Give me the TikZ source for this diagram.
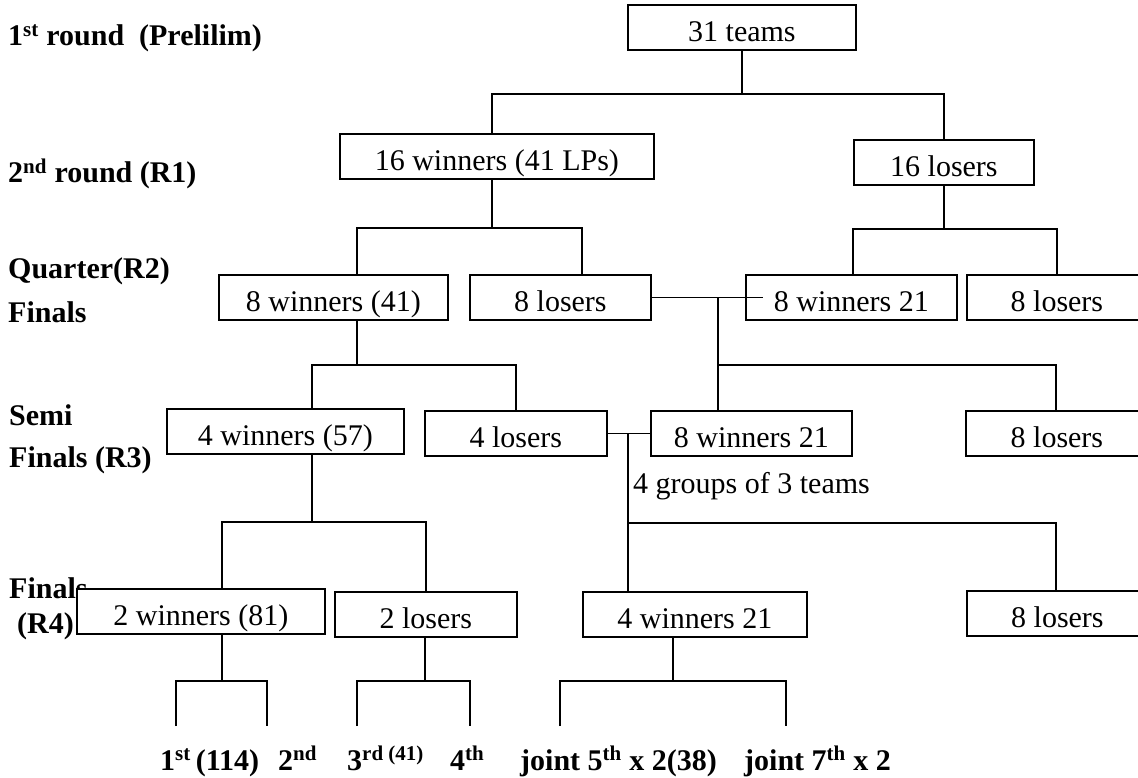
\documentclass[tikz,border=0pt]{standalone}
\usepackage{fontspec}
\setmainfont{Liberation Serif}

\tikzset{
  teambox/.style={draw, fill=white, line width=1.8pt, inner sep=0pt, anchor=north west,
    text height=37pt, text depth=8pt, font=\fontsize{30}{36}\selectfont},
  rnd/.style={anchor=base west, inner sep=0pt, font=\fontsize{30}{36}\selectfont\bfseries},
  link/.style={line width=1.8pt},
}

\begin{document}
\begin{tikzpicture}[x=1pt,y=-1pt]
	\useasboundingbox (0,0) rectangle (1138,778);
	\clip (0,0) rectangle (1138,778);

	% round names
	\node[rnd] (r1) at (8,46) {1\textsuperscript{st} round\ \ (Prelilim)};
	\node[rnd] (r2) at (8,183) {2\textsuperscript{nd} round (R1)};
	\node[rnd] (r3a) at (8,279) {Quarter(R2)};
	\node[rnd] (r3b) at (8,322) {Finals};
	\node[rnd] (r4a) at (9,425) {Semi};
	\node[rnd] (r4b) at (9,467) {Finals (R3)};
	\node[rnd] (r5a) at (9,598) {Finals};
	\node[rnd] (r5b) at (17,633) {(R4)};

	% boxes
	\node[teambox, minimum width=228pt] (teams) at (627,4) {31 teams\hspace{46pt}};
	\node[teambox, minimum width=314pt] (win16) at (339,133) {16 winners (41 LPs)};
	\node[teambox, minimum width=180pt] (los16) at (853,139) {16 losers};

	\node[teambox, minimum width=229pt] (win8) at (218,274) {8 winners (41)};
	\node[teambox, minimum width=181pt] (los8) at (469,274) {8 losers};
	\node[teambox, minimum width=211pt] (rwin8) at (745,274) {8 winners 21};
	\node[teambox, minimum width=180pt] (rlos8) at (966,274) {8 losers};

	\node[teambox, minimum width=237pt] (win4) at (166,408) {4 winners (57)};
	\node[teambox, minimum width=182pt] (los4) at (424,410) {4 losers};
	\node[teambox, minimum width=201pt] (rwin8b) at (650,410) {8 winners 21};
	\node[teambox, minimum width=182pt] (rlos8b) at (965,410) {8 losers};

	\node[teambox, minimum width=248pt] (win2) at (76,588) {2 winners (81)};
	\node[teambox, minimum width=182pt] (los2) at (334,591) {2 losers};
	\node[teambox, minimum width=224pt] (win4b) at (582,591) {4 winners 21};
	\node[teambox, minimum width=181pt] (los8c) at (966,590) {8 losers};

	\node[anchor=base west, inner sep=0pt, font=\fontsize{30}{36}\selectfont] (grp) at (633,493) {4 groups of 3 teams};

	% placings
	\node[rnd] (p1) at (160,770) {1\textsuperscript{st}\,(114)};
	\node[rnd] (p2) at (278,770) {2\textsuperscript{nd}};
	\node[rnd] (p3) at (347,770) {3\textsuperscript{rd (41)}};
	\node[rnd] (p4) at (450,770) {4\textsuperscript{th}};
	\node[rnd] (p5) at (520,770) {joint 5\textsuperscript{th} x 2(38)};
	\node[rnd] (p6) at (744,770) {joint 7\textsuperscript{th} x 2};

	% junctions
	\coordinate (a1) at (492,94);
	\coordinate (b1) at (357,228);
	\coordinate (b2) at (582,228);
	\coordinate (c1) at (853,229);
	\coordinate (c2) at (1057,229);
	\coordinate (d1) at (718,297);
	\coordinate (d2) at (718,365);
	\coordinate (d3) at (1056,365);
	\coordinate (e1) at (357,365);
	\coordinate (e2) at (312,365);
	\coordinate (f1) at (628,433);
	\coordinate (f2) at (628,523);
	\coordinate (f3) at (1056,523);
	\coordinate (g1) at (312,522);
	\coordinate (g2) at (222,522);
	\coordinate (h1) at (222,681);
	\coordinate (h2) at (425,681);
	\coordinate (h3) at (673,681);
	\coordinate (l1) at (176,726);
	\coordinate (l2) at (267,726);
	\coordinate (l3) at (357,726);
	\coordinate (l4) at (470,726);
	\coordinate (l5) at (560,726);
	\coordinate (l6) at (786,726);

	% lines
	\draw[link] (teams.south) -- (teams.south |- a1);
	\draw[link] (win16.north -| a1) -- (a1) -| (los16.north);

	\draw[link] (win16.south -| a1) -- (a1 |- b1);
	\draw[link] (win8.north -| b1) -- (b1) -- (b2) -- (los8.north -| b2);
	\draw[link] (los16.south) -- (los16.south |- c1);
	\draw[link] (rwin8.north -| c1) -- (c1) -- (c2) -- (rlos8.north -| c2);

	\draw[link] (los8.east) -- (rwin8.west) -- ++(18,0);
	\draw[link] (d1) -- (rwin8b.north -| d1);
	\draw[link] (d2) -- (d3) -- (rlos8b.north -| d3);
	\draw[link] (win8.south -| e1) -- (e1);
	\draw[link] (win4.north -| e2) -- (e2) -| (los4.north);

	\draw[link] (los4.east) -- (rwin8b.west);
	\draw[link] (f1) -- (win4b.north -| f1);
	\draw[link] (f2) -- (f3) -- (los8c.north -| f3);
	\draw[link] (win4.south -| g1) -- (g1);
	\draw[link] (win2.north -| g2) -- (g2) -| (los2.north);

	\draw[link] (win2.south -| h1) -- (h1);
	\draw[link] (l1) |- (h1) -| (l2);
	\draw[link] (los2.south -| h2) -- (h2);
	\draw[link] (l3) |- (h2) -| (l4);
	\draw[link] (win4b.south -| h3) -- (h3);
	\draw[link] (l5) |- (h3) -| (l6);
\end{tikzpicture}
\end{document}
